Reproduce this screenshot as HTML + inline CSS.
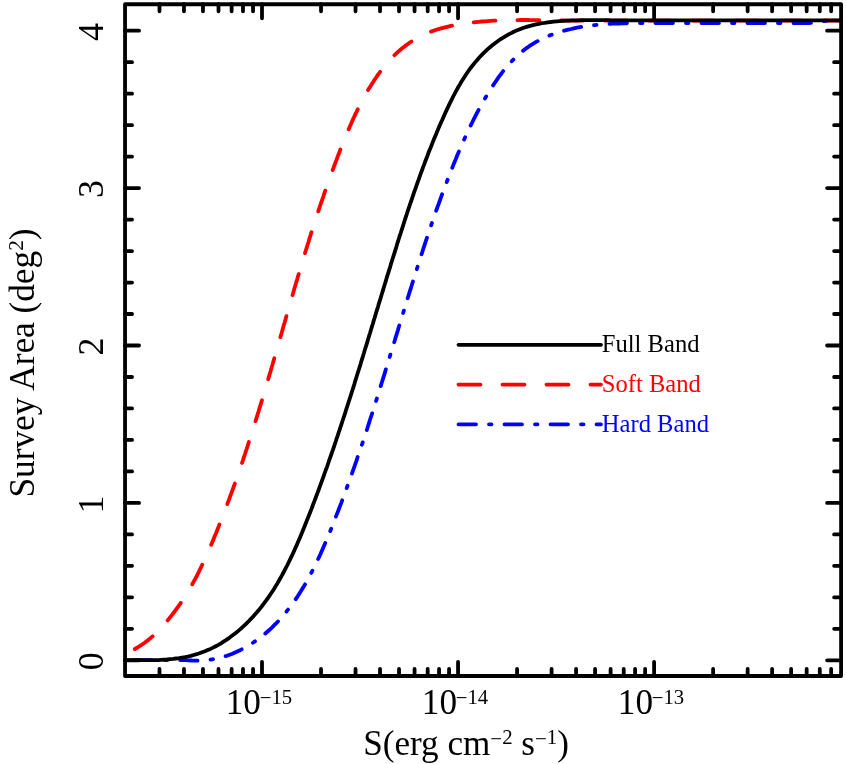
<!DOCTYPE html>
<html><head><meta charset="utf-8"><title>Survey Area</title>
<style>
html,body{margin:0;padding:0;background:#fff;}
body{width:846px;height:764px;overflow:hidden;}
svg{display:block;will-change:transform;}
text{font-family:"Liberation Serif",serif;fill:#000;}
</style></head><body>
<svg width="846" height="764" viewBox="0 0 846 764">
<rect width="846" height="764" fill="#fff"/>
<g fill="none" stroke-width="3.8" stroke-linecap="round" stroke-linejoin="round">
<polyline points="134.8,649.0 137.4,647.5 140.0,645.9 142.5,644.2 145.0,642.5 147.3,640.7 149.7,638.8 151.9,636.9 154.1,634.9 156.3,632.8 158.4,630.7 160.4,628.6 162.4,626.4 164.4,624.2 166.3,621.9 168.3,619.6 170.1,617.3 172.0,614.9 173.8,612.5 175.6,610.1 177.4,607.7 179.2,605.2 180.9,602.7 182.6,600.2 184.2,597.6 185.8,595.1 187.4,592.5 189.0,589.9 190.5,587.3 192.0,584.7 193.4,582.1 194.9,579.5 196.3,576.8 197.7,574.2 199.0,571.5 200.3,568.8 201.6,566.1 202.9,563.4 204.2,560.7 205.4,558.0 206.7,555.3 207.9,552.6 209.1,549.8 210.2,547.1 211.4,544.3 212.6,541.6 213.7,538.8 214.8,536.0 216.0,533.3 217.1,530.5 218.2,527.7 219.3,524.9 220.4,522.2 221.5,519.4 222.6,516.6 223.7,513.8 224.7,511.0 225.8,508.2 226.9,505.3 227.9,502.5 229.0,499.7 230.0,496.9 231.0,494.1 232.1,491.3 233.1,488.4 234.1,485.6 235.1,482.8 236.1,479.9 237.1,477.1 238.1,474.2 239.1,471.4 240.1,468.6 241.0,465.7 242.0,462.9 243.0,460.0 243.9,457.1 244.9,454.3 245.8,451.4 246.8,448.6 247.7,445.7 248.6,442.9 249.5,440.0 250.5,437.1 251.4,434.3 252.3,431.4 253.2,428.5 254.1,425.7 255.0,422.8 255.9,419.9 256.8,417.0 257.7,414.2 258.6,411.3 259.4,408.4 260.3,405.6 261.2,402.7 262.1,399.8 262.9,396.9 263.8,394.1 264.6,391.2 265.5,388.3 266.4,385.5 267.2,382.6 268.1,379.7 268.9,376.8 269.7,374.0 270.6,371.1 271.4,368.2 272.3,365.3 273.1,362.5 273.9,359.6 274.8,356.7 275.6,353.8 276.4,351.0 277.2,348.1 278.1,345.2 278.9,342.3 279.7,339.5 280.5,336.6 281.4,333.7 282.2,330.9 283.0,328.0 283.8,325.1 284.7,322.2 285.5,319.4 286.3,316.5 287.2,313.6 288.0,310.8 288.8,307.9 289.6,305.0 290.5,302.1 291.3,299.3 292.1,296.4 293.0,293.5 293.8,290.7 294.6,287.8 295.5,284.9 296.3,282.1 297.2,279.2 298.0,276.3 298.9,273.5 299.7,270.6 300.6,267.7 301.4,264.9 302.3,262.0 303.2,259.1 304.0,256.3 304.9,253.4 305.8,250.5 306.7,247.7 307.6,244.8 308.5,242.0 309.3,239.1 310.2,236.2 311.1,233.4 312.1,230.5 313.0,227.7 313.9,224.8 314.8,221.9 315.7,219.1 316.7,216.2 317.6,213.4 318.5,210.5 319.5,207.7 320.4,204.8 321.4,202.0 322.4,199.1 323.4,196.3 324.3,193.4 325.3,190.6 326.3,187.7 327.3,184.9 328.3,182.1 329.3,179.2 330.4,176.4 331.4,173.5 332.4,170.7 333.5,167.8 334.5,165.0 335.6,162.2 336.7,159.3 337.7,156.5 338.8,153.7 339.9,150.8 341.0,148.0 342.1,145.2 343.3,142.3 344.4,139.5 345.5,136.7 346.7,133.9 347.9,131.1 349.1,128.3 350.3,125.5 351.5,122.7 352.7,119.9 354.0,117.2 355.3,114.4 356.6,111.7 357.9,109.0 359.2,106.3 360.6,103.6 362.0,101.0 363.4,98.3 364.8,95.7 366.3,93.1 367.8,90.5 369.3,87.9 370.9,85.4 372.5,82.9 374.1,80.4 375.8,78.0 377.4,75.5 379.2,73.1 380.9,70.8 382.7,68.5 384.6,66.2 386.4,63.9 388.3,61.7 390.3,59.6 392.3,57.5 394.3,55.4 396.4,53.4 398.5,51.4 400.7,49.5 402.9,47.7 405.2,45.9 407.5,44.2 409.9,42.5 412.3,40.9 414.8,39.4 417.3,38.0 419.8,36.6 422.5,35.3 425.1,34.0 427.9,32.9 430.6,31.8 433.4,30.8 436.3,29.8 439.2,28.9 442.1,28.1 445.1,27.3 448.0,26.6 451.0,25.9 454.1,25.3 457.1,24.7 460.2,24.2 463.2,23.7 466.3,23.2 469.4,22.8 472.5,22.5 475.6,22.1 478.7,21.8 481.8,21.5 484.9,21.3 487.9,21.1 491.0,20.9 494.1,20.7 497.1,20.6 500.1,20.4 503.2,20.3 506.2,20.3 509.2,20.2 512.2,20.1 515.2,20.1 518.2,20.1 521.2,20.0 524.1,20.0 527.1,20.0 530.1,20.1 533.1,20.1 536.0,20.1 539.0,20.1 542.0,20.2 544.9,20.2 547.9,20.3 550.9,20.4 553.8,20.4 556.8,20.5 559.8,20.5 562.7,20.5 565.7,20.6 568.7,20.6 571.7,20.6 574.6,20.6 577.6,20.6 580.6,20.6 583.6,20.6 586.6,20.6 589.5,20.6 592.5,20.6 595.5,20.6 598.5,20.6 601.5,20.6 604.5,20.6 607.5,20.6 610.4,20.6 613.4,20.6 616.4,20.6 619.4,20.6 622.4,20.6 625.4,20.6 628.4,20.6 631.4,20.6 634.4,20.6 637.4,20.6 640.4,20.6 643.4,20.6 646.4,20.6 649.4,20.6 652.4,20.6 655.4,20.6 658.4,20.6 661.4,20.6 664.4,20.6 667.4,20.6 670.4,20.6 673.4,20.6 676.4,20.6 679.4,20.6 682.4,20.6 685.4,20.6 688.4,20.6 691.4,20.6 694.4,20.6 697.4,20.6 700.5,20.6 703.5,20.6 706.5,20.6 709.5,20.6 712.5,20.6 715.5,20.6 718.5,20.6 721.5,20.6 724.5,20.6 727.5,20.6 730.5,20.6 733.5,20.6 736.5,20.6 739.5,20.6 742.6,20.6 745.6,20.6 748.6,20.6 751.6,20.6 754.6,20.6 757.6,20.6 760.6,20.6 763.6,20.6 766.6,20.6 769.6,20.6 772.6,20.6 775.6,20.6 778.6,20.6 781.6,20.6 784.6,20.6 787.6,20.6 790.6,20.6 793.6,20.6 796.6,20.6 799.6,20.6 802.6,20.6 805.6,20.6 808.6,20.6 811.6,20.6 814.6,20.6 817.6,20.6 820.6,20.6 823.6,20.6 826.6,20.6 829.6,20.6 832.6,20.6 835.6,20.6 838.6,20.6 841.0,20.6" stroke="#ff0000" stroke-dasharray="21.9 21.9"/>
<polyline points="125.1,660.1 128.0,660.1 130.9,660.1 133.9,660.1 136.9,660.1 139.9,660.1 142.9,660.1 145.9,660.1 148.9,660.1 152.0,660.1 155.0,660.1 158.1,660.1 161.1,660.1 164.2,660.1 167.3,660.1 170.3,660.1 173.4,660.1 176.5,660.1 179.6,660.1 182.6,660.1 185.7,660.1 188.7,660.3 191.8,660.5 194.8,660.6 197.8,660.7 200.8,660.6 203.8,660.4 206.7,660.2 209.7,659.8 212.6,659.3 215.5,658.8 218.4,658.2 221.3,657.4 224.1,656.6 226.9,655.7 229.7,654.7 232.4,653.7 235.1,652.5 237.8,651.3 240.5,650.0 243.1,648.6 245.7,647.2 248.3,645.7 250.8,644.1 253.3,642.5 255.7,640.8 258.1,639.1 260.5,637.3 262.8,635.5 265.1,633.6 267.3,631.7 269.5,629.8 271.7,627.8 273.8,625.7 275.8,623.7 277.9,621.5 279.9,619.4 281.8,617.2 283.7,615.0 285.6,612.7 287.4,610.4 289.3,608.1 291.0,605.8 292.8,603.4 294.5,601.0 296.1,598.6 297.8,596.1 299.4,593.6 301.0,591.1 302.5,588.6 304.1,586.0 305.6,583.4 307.0,580.8 308.5,578.2 309.9,575.5 311.3,572.9 312.7,570.2 314.1,567.5 315.4,564.8 316.7,562.1 318.0,559.3 319.3,556.6 320.6,553.8 321.8,551.0 323.0,548.2 324.2,545.5 325.4,542.7 326.6,539.8 327.8,537.0 329.0,534.2 330.1,531.4 331.3,528.6 332.4,525.7 333.5,522.9 334.6,520.1 335.7,517.2 336.8,514.4 337.9,511.6 339.0,508.8 340.1,505.9 341.2,503.1 342.2,500.3 343.3,497.4 344.3,494.6 345.4,491.8 346.4,488.9 347.4,486.1 348.5,483.3 349.5,480.4 350.5,477.6 351.5,474.8 352.5,471.9 353.5,469.1 354.5,466.3 355.5,463.4 356.5,460.6 357.4,457.7 358.4,454.9 359.4,452.1 360.3,449.2 361.3,446.4 362.3,443.6 363.2,440.7 364.1,437.9 365.1,435.0 366.0,432.2 367.0,429.4 367.9,426.5 368.8,423.7 369.7,420.8 370.6,418.0 371.6,415.1 372.5,412.3 373.4,409.5 374.3,406.6 375.2,403.8 376.1,400.9 377.0,398.1 377.9,395.2 378.8,392.4 379.7,389.5 380.5,386.7 381.4,383.8 382.3,381.0 383.2,378.1 384.1,375.3 385.0,372.4 385.8,369.6 386.7,366.7 387.6,363.9 388.5,361.0 389.3,358.2 390.2,355.3 391.1,352.5 392.0,349.6 392.8,346.8 393.7,343.9 394.6,341.1 395.4,338.2 396.3,335.4 397.2,332.5 398.1,329.6 398.9,326.8 399.8,323.9 400.7,321.1 401.6,318.2 402.4,315.3 403.3,312.5 404.2,309.6 405.1,306.8 405.9,303.9 406.8,301.0 407.7,298.2 408.6,295.3 409.5,292.4 410.4,289.6 411.3,286.7 412.2,283.8 413.1,281.0 414.0,278.1 414.9,275.2 415.8,272.4 416.7,269.5 417.6,266.6 418.5,263.8 419.4,260.9 420.3,258.0 421.2,255.2 422.2,252.3 423.1,249.4 424.0,246.6 425.0,243.7 425.9,240.8 426.9,238.0 427.8,235.1 428.8,232.3 429.7,229.4 430.7,226.6 431.7,223.7 432.7,220.9 433.6,218.0 434.6,215.2 435.6,212.3 436.6,209.5 437.6,206.7 438.7,203.8 439.7,201.0 440.7,198.2 441.7,195.3 442.8,192.5 443.8,189.7 444.9,186.9 445.9,184.1 447.0,181.3 448.1,178.5 449.1,175.7 450.2,172.9 451.3,170.1 452.4,167.4 453.5,164.6 454.7,161.8 455.8,159.1 456.9,156.3 458.1,153.5 459.2,150.8 460.4,148.1 461.6,145.3 462.8,142.6 464.0,139.9 465.2,137.2 466.4,134.4 467.7,131.7 469.0,129.0 470.2,126.3 471.6,123.7 472.9,121.0 474.2,118.3 475.6,115.6 477.0,112.9 478.4,110.3 479.8,107.6 481.3,105.0 482.8,102.3 484.3,99.7 485.8,97.0 487.4,94.4 489.0,91.8 490.6,89.2 492.3,86.6 494.0,84.0 495.7,81.5 497.5,78.9 499.2,76.4 501.1,74.0 502.9,71.5 504.8,69.2 506.8,66.8 508.7,64.5 510.8,62.3 512.8,60.1 514.9,58.0 517.1,55.9 519.2,54.0 521.5,52.0 523.7,50.2 526.0,48.4 528.4,46.8 530.8,45.1 533.3,43.6 535.7,42.2 538.3,40.8 540.8,39.4 543.4,38.2 546.1,37.0 548.7,35.9 551.4,34.8 554.1,33.8 556.9,32.9 559.7,32.0 562.5,31.1 565.3,30.4 568.2,29.6 571.1,29.0 573.9,28.3 576.9,27.7 579.8,27.2 582.7,26.7 585.7,26.3 588.7,25.8 591.6,25.5 594.6,25.1 597.6,24.8 600.7,24.5 603.7,24.3 606.7,24.1 609.7,23.9 612.8,23.7 615.8,23.6 618.9,23.5 621.9,23.4 625.0,23.3 628.0,23.2 631.1,23.2 634.2,23.1 637.2,23.1 640.3,23.1 643.4,23.1 646.4,23.1 649.5,23.1 652.5,23.1 655.6,23.1 658.6,23.1 661.7,23.1 664.7,23.1 667.7,23.1 670.8,23.1 673.8,23.1 676.8,23.1 679.9,23.1 682.9,23.1 685.9,23.1 688.9,23.1 691.9,23.1 694.9,23.1 697.9,23.1 700.9,23.1 703.9,23.1 706.9,23.1 709.9,23.1 712.9,23.1 715.9,23.1 718.9,23.1 721.9,23.1 724.9,23.1 727.9,23.1 730.8,23.1 733.8,23.1 736.8,23.1 739.8,23.1 742.8,23.1 745.7,23.1 748.7,23.1 751.7,23.1 754.7,23.1 757.7,23.1 760.6,23.1 763.6,23.1 766.6,23.1 769.6,23.1 772.6,23.1 775.5,23.1 778.5,23.1 781.5,23.1 784.5,23.1 787.5,23.1 790.4,23.1 793.4,23.1 796.4,23.1 799.4,23.1 802.4,23.1 805.4,23.1 808.4,23.1 811.4,22.7 814.4,22.3 817.4,21.9 820.4,21.5 823.4,21.1 826.4,20.7 829.4,20.6 832.4,20.6 835.4,20.6 838.4,20.6 841.0,20.6" stroke="#0000ff" stroke-dasharray="17.5 13 2.5 13" stroke-dashoffset="-9"/>
<polyline points="125.0,660.1 128.0,660.1 130.9,660.1 133.9,660.1 136.9,660.1 139.9,660.1 142.9,660.1 146.0,660.1 149.0,660.1 152.0,660.1 155.1,660.1 158.1,660.1 161.1,659.9 164.1,659.7 167.2,659.5 170.2,659.2 173.2,658.9 176.1,658.5 179.1,658.1 182.1,657.6 185.0,657.1 187.9,656.5 190.8,655.8 193.7,655.0 196.6,654.2 199.4,653.3 202.2,652.3 205.0,651.3 207.7,650.1 210.5,648.9 213.1,647.6 215.8,646.2 218.4,644.8 221.0,643.3 223.5,641.7 226.0,640.1 228.5,638.4 230.9,636.6 233.3,634.8 235.7,633.0 238.0,631.1 240.3,629.1 242.5,627.2 244.7,625.2 246.8,623.1 248.9,621.0 250.9,618.9 253.0,616.7 254.9,614.5 256.9,612.3 258.8,610.1 260.6,607.8 262.4,605.5 264.2,603.1 266.0,600.7 267.7,598.3 269.4,595.9 271.0,593.5 272.7,591.0 274.3,588.5 275.8,585.9 277.4,583.4 278.9,580.8 280.3,578.2 281.8,575.6 283.2,573.0 284.6,570.4 286.0,567.7 287.4,565.0 288.7,562.3 290.0,559.6 291.3,556.9 292.6,554.2 293.9,551.4 295.1,548.6 296.4,545.9 297.6,543.1 298.8,540.3 300.0,537.5 301.1,534.7 302.3,531.9 303.5,529.1 304.6,526.3 305.7,523.5 306.8,520.6 308.0,517.8 309.1,515.0 310.2,512.2 311.3,509.4 312.4,506.5 313.4,503.7 314.5,500.9 315.6,498.0 316.6,495.2 317.7,492.4 318.8,489.5 319.8,486.7 320.8,483.9 321.9,481.0 322.9,478.2 323.9,475.4 324.9,472.5 325.9,469.7 327.0,466.9 328.0,464.0 328.9,461.2 329.9,458.3 330.9,455.5 331.9,452.7 332.9,449.8 333.9,447.0 334.8,444.1 335.8,441.3 336.7,438.4 337.7,435.6 338.6,432.7 339.6,429.9 340.5,427.0 341.5,424.2 342.4,421.3 343.3,418.5 344.3,415.6 345.2,412.8 346.1,409.9 347.0,407.1 347.9,404.2 348.8,401.4 349.8,398.5 350.7,395.7 351.6,392.8 352.5,390.0 353.4,387.1 354.3,384.3 355.1,381.4 356.0,378.6 356.9,375.7 357.8,372.8 358.7,370.0 359.6,367.1 360.5,364.3 361.3,361.4 362.2,358.6 363.1,355.7 364.0,352.8 364.8,350.0 365.7,347.1 366.6,344.3 367.5,341.4 368.3,338.5 369.2,335.7 370.1,332.8 370.9,330.0 371.8,327.1 372.7,324.2 373.5,321.4 374.4,318.5 375.3,315.7 376.1,312.8 377.0,309.9 377.9,307.1 378.7,304.2 379.6,301.4 380.5,298.5 381.3,295.7 382.2,292.8 383.1,289.9 383.9,287.1 384.8,284.2 385.7,281.4 386.5,278.5 387.4,275.6 388.3,272.8 389.2,269.9 390.1,267.1 390.9,264.2 391.8,261.4 392.7,258.5 393.6,255.6 394.5,252.8 395.4,249.9 396.3,247.1 397.1,244.2 398.0,241.4 398.9,238.5 399.8,235.7 400.8,232.8 401.7,229.9 402.6,227.1 403.5,224.2 404.4,221.4 405.3,218.5 406.3,215.7 407.2,212.8 408.1,210.0 409.1,207.2 410.0,204.3 411.0,201.5 412.0,198.6 412.9,195.8 413.9,192.9 414.9,190.1 415.9,187.3 416.9,184.4 417.9,181.6 418.9,178.8 419.9,175.9 420.9,173.1 422.0,170.3 423.0,167.4 424.1,164.6 425.1,161.8 426.2,159.0 427.3,156.2 428.3,153.3 429.4,150.5 430.6,147.7 431.7,144.9 432.8,142.1 433.9,139.3 435.1,136.5 436.3,133.7 437.4,130.9 438.6,128.1 439.8,125.3 441.0,122.5 442.3,119.7 443.5,116.9 444.7,114.2 446.0,111.4 447.3,108.6 448.6,105.9 449.9,103.1 451.3,100.4 452.6,97.7 454.0,95.0 455.4,92.3 456.9,89.6 458.3,87.0 459.9,84.4 461.4,81.8 463.0,79.3 464.6,76.8 466.2,74.3 467.9,71.8 469.6,69.4 471.4,67.0 473.2,64.7 475.1,62.4 477.0,60.2 478.9,58.0 480.9,55.8 483.0,53.7 485.1,51.7 487.2,49.7 489.4,47.7 491.7,45.8 494.0,44.0 496.3,42.2 498.7,40.5 501.1,38.9 503.6,37.4 506.1,35.9 508.6,34.4 511.2,33.1 513.8,31.8 516.5,30.6 519.2,29.5 521.9,28.4 524.6,27.5 527.4,26.6 530.2,25.8 533.1,25.1 536.0,24.4 538.9,23.8 541.8,23.2 544.7,22.8 547.7,22.3 550.6,22.0 553.6,21.6 556.6,21.3 559.7,21.1 562.7,20.9 565.7,20.7 568.8,20.6 571.8,20.4 574.9,20.3 578.0,20.3 581.0,20.2 584.1,20.2 587.1,20.1 590.2,20.1 593.2,20.1 596.3,20.1 599.3,20.1 602.4,20.2 605.4,20.2 608.5,20.2 611.5,20.3 614.5,20.3 617.5,20.3 620.6,20.4 623.6,20.4 626.6,20.4 629.6,20.4 632.6,20.4 635.7,20.4 638.7,20.4 641.7,20.4 644.7,20.4 647.7,20.4 650.7,20.4 653.7,20.4 656.7,20.4 659.7,20.4 662.7,20.4 665.7,20.4 668.7,20.4 671.7,20.4 674.7,20.4 677.7,20.4 680.7,20.4 683.7,20.4 686.7,20.4 689.7,20.4 692.7,20.4 695.7,20.4 698.7,20.4 701.7,20.4 704.7,20.4 707.6,20.4 710.6,20.4 713.6,20.4 716.6,20.4 719.6,20.4 722.6,20.4 725.6,20.4 728.6,20.4 731.6,20.4 734.6,20.4 737.6,20.4 740.6,20.4 743.6,20.4 746.5,20.4 749.5,20.4 752.5,20.4 755.5,20.4 758.5,20.4 761.5,20.4 764.5,20.4 767.5,20.4 770.5,20.4 773.5,20.4 776.5,20.4 779.5,20.4 782.5,20.4 785.5,20.4 788.5,20.4 791.5,20.4 794.4,20.4 797.4,20.4 800.4,20.4 803.4,20.4 806.4,20.4 809.4,20.4 812.4,20.4 815.4,20.4 818.4,20.4 821.4,20.4 824.5,20.4 827.5,20.4 830.5,20.4 833.5,20.4 836.5,20.4 839.5,20.4 841.0,20.4" stroke="#000"/>
<line x1="458.5" y1="344.8" x2="601.0" y2="344.8" stroke="#000"/>
<line x1="458.5" y1="384.6" x2="601.0" y2="384.6" stroke="#ff0000" stroke-dasharray="22 22"/>
<line x1="458.5" y1="424.3" x2="601.0" y2="424.3" stroke="#0000ff" stroke-dasharray="17.5 13 2.5 13"/>
</g>
<g fill="none" stroke="#000" stroke-width="3.8" stroke-linecap="round" stroke-linejoin="round">
<rect x="125.05" y="4.25" width="716.05" height="671.75"/>
<path d="M159.49 676.0v-7.0M159.49 4.25v7.0M183.98 676.0v-7.0M183.98 4.25v7.0M202.98 676.0v-7.0M202.98 4.25v7.0M218.51 676.0v-7.0M218.51 4.25v7.0M231.63 676.0v-7.0M231.63 4.25v7.0M243.00 676.0v-7.0M243.00 4.25v7.0M253.03 676.0v-7.0M253.03 4.25v7.0M262.00 676.0v-14.0M262.00 4.25v14.0M321.02 676.0v-7.0M321.02 4.25v7.0M355.54 676.0v-7.0M355.54 4.25v7.0M380.03 676.0v-7.0M380.03 4.25v7.0M399.03 676.0v-7.0M399.03 4.25v7.0M414.56 676.0v-7.0M414.56 4.25v7.0M427.68 676.0v-7.0M427.68 4.25v7.0M439.05 676.0v-7.0M439.05 4.25v7.0M449.08 676.0v-7.0M449.08 4.25v7.0M458.05 676.0v-14.0M458.05 4.25v14.0M517.07 676.0v-7.0M517.07 4.25v7.0M551.59 676.0v-7.0M551.59 4.25v7.0M576.08 676.0v-7.0M576.08 4.25v7.0M595.08 676.0v-7.0M595.08 4.25v7.0M610.61 676.0v-7.0M610.61 4.25v7.0M623.73 676.0v-7.0M623.73 4.25v7.0M635.10 676.0v-7.0M635.10 4.25v7.0M645.13 676.0v-7.0M645.13 4.25v7.0M654.10 676.0v-14.0M654.10 4.25v14.0M713.12 676.0v-7.0M713.12 4.25v7.0M747.64 676.0v-7.0M747.64 4.25v7.0M772.13 676.0v-7.0M772.13 4.25v7.0M791.13 676.0v-7.0M791.13 4.25v7.0M806.66 676.0v-7.0M806.66 4.25v7.0M819.78 676.0v-7.0M819.78 4.25v7.0M831.15 676.0v-7.0M831.15 4.25v7.0M125.05 660.30h14.0M841.1 660.30h-14.0M125.05 628.82h7.0M841.1 628.82h-7.0M125.05 597.34h7.0M841.1 597.34h-7.0M125.05 565.86h7.0M841.1 565.86h-7.0M125.05 534.38h7.0M841.1 534.38h-7.0M125.05 502.90h14.0M841.1 502.90h-14.0M125.05 471.42h7.0M841.1 471.42h-7.0M125.05 439.94h7.0M841.1 439.94h-7.0M125.05 408.46h7.0M841.1 408.46h-7.0M125.05 376.98h7.0M841.1 376.98h-7.0M125.05 345.50h14.0M841.1 345.50h-14.0M125.05 314.02h7.0M841.1 314.02h-7.0M125.05 282.54h7.0M841.1 282.54h-7.0M125.05 251.06h7.0M841.1 251.06h-7.0M125.05 219.58h7.0M841.1 219.58h-7.0M125.05 188.10h14.0M841.1 188.10h-14.0M125.05 156.62h7.0M841.1 156.62h-7.0M125.05 125.14h7.0M841.1 125.14h-7.0M125.05 93.66h7.0M841.1 93.66h-7.0M125.05 62.18h7.0M841.1 62.18h-7.0M125.05 30.70h14.0M841.1 30.70h-14.0"/>
</g>
<g font-size="36">
<text transform="translate(225.7 714.4) scale(0.977 1)">10<tspan font-size="22.0" dy="-9.0" dx="-1.2" textLength="12.0" lengthAdjust="spacingAndGlyphs">−</tspan><tspan font-size="22.0" dy="-1.6" textLength="21.2" lengthAdjust="spacingAndGlyphs">15</tspan></text>
<text transform="translate(421.8 714.4) scale(0.977 1)">10<tspan font-size="22.0" dy="-9.0" dx="-1.2" textLength="12.0" lengthAdjust="spacingAndGlyphs">−</tspan><tspan font-size="22.0" dy="-1.6" textLength="21.2" lengthAdjust="spacingAndGlyphs">14</tspan></text>
<text transform="translate(617.8 714.4) scale(0.977 1)">10<tspan font-size="22.0" dy="-9.0" dx="-1.2" textLength="12.0" lengthAdjust="spacingAndGlyphs">−</tspan><tspan font-size="22.0" dy="-1.6" textLength="21.2" lengthAdjust="spacingAndGlyphs">13</tspan></text>
<text transform="translate(102.6 661.2) rotate(-90)" text-anchor="middle">0</text>
<text transform="translate(102.6 504.6) rotate(-90)" text-anchor="middle">1</text>
<text transform="translate(102.6 346.4) rotate(-90)" text-anchor="middle">2</text>
<text transform="translate(102.6 189.0) rotate(-90)" text-anchor="middle">3</text>
<text transform="translate(102.6 32.1) rotate(-90)" text-anchor="middle">4</text>
<text transform="translate(363.2 755.0) scale(0.976 1)">S(erg cm<tspan font-size="21.4" dy="-9.0">−</tspan><tspan font-size="21.4" dy="-1.6">2</tspan><tspan dy="10.6"> s</tspan><tspan font-size="21.4" dy="-9.0">−</tspan><tspan font-size="21.4" dy="-1.6">1</tspan><tspan dy="10.6">)</tspan></text>
<text transform="translate(34 497.6) rotate(-90) scale(0.98 1)">Survey Area (deg<tspan font-size="21.6" dy="-10.6">2</tspan><tspan dy="10.6">)</tspan></text>
<text x="601.8" y="352.2" font-size="24.6">Full Band</text>
<text x="601.8" y="391.9" font-size="24.6" style="fill:#ff0000">Soft Band</text>
<text x="601.8" y="431.6" font-size="24.6" style="fill:#0000ff">Hard Band</text>
</g>
</svg></body></html>
